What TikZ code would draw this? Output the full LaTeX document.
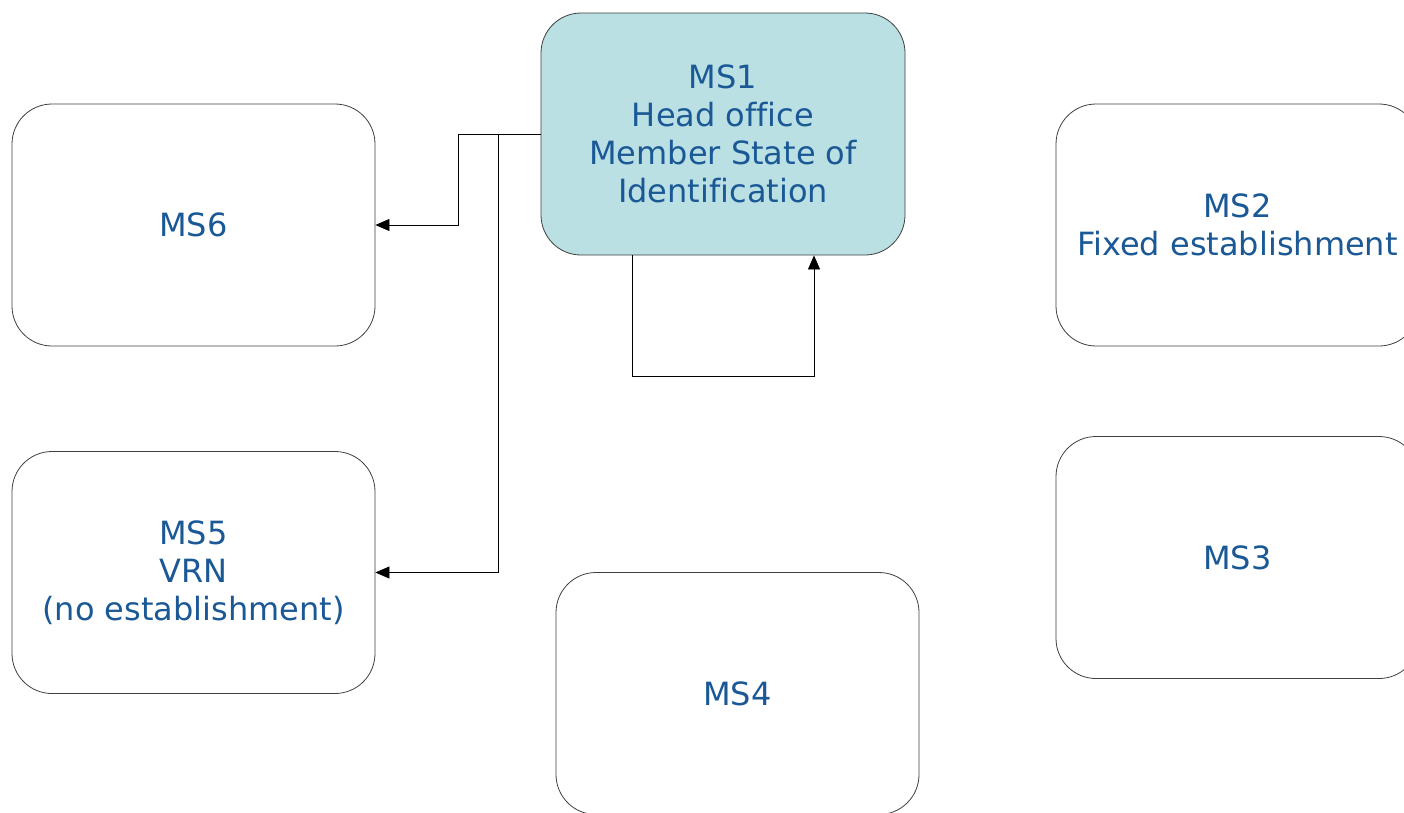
\documentclass[tikz,border=0pt]{standalone}
\usepackage{fontspec}
\setmainfont[Ligatures=CommonOff]{DejaVu Sans}
\usetikzlibrary{arrows.meta}
\definecolor{txtblue}{HTML}{1A5896}
\definecolor{boxfill}{HTML}{BAE0E3}
\definecolor{boxline}{HTML}{404040}
\begin{document}
\begin{tikzpicture}[x=1pt,y=-1pt,
  msbox/.style={draw=boxline,line width=0.8pt,rounded corners=40pt,
    minimum width=363pt,minimum height=242pt,inner sep=0pt,
    align=center,text=txtblue,font=\fontsize{32}{38}\selectfont},
  conn/.style={draw=black,line width=0.8pt},
  arr/.style={conn,-{Triangle[length=14pt,width=12pt]}}]
\useasboundingbox (0,0) rectangle (1404,812);
\clip (0,0) rectangle (1404,812);
\fill[white] (0,0) rectangle (1404,812);
\node[msbox,fill=boxfill,minimum width=364pt] (ms1) at (723,134) {MS1\\Head office\\Member State of\\Identification};
\node[msbox] (ms6) at (193.5,225) {MS6};
\node[msbox] (ms5) at (193.5,572.5) {MS5\\VRN\\(no establishment)};
\node[msbox] (ms4) at (737.5,693.5) {MS4};
\node[msbox] (ms2) at (1237.5,225) {MS2\\Fixed establishment};
\node[msbox] (ms3) at (1237.5,557.5) {MS3};
\coordinate (j1) at (458,134);
\coordinate (j2) at (498,134);
\draw[arr] (ms1.west) -- (j1) |- (ms6.east);
\draw[arr] (j2) |- (ms5.east);
\coordinate (l1) at ([xshift=-91pt]ms1.south);
\coordinate (l2) at ([xshift=91pt]ms1.south);
\draw[arr] (l1) -- ++(0,121) -| (l2);
\end{tikzpicture}
\end{document}
